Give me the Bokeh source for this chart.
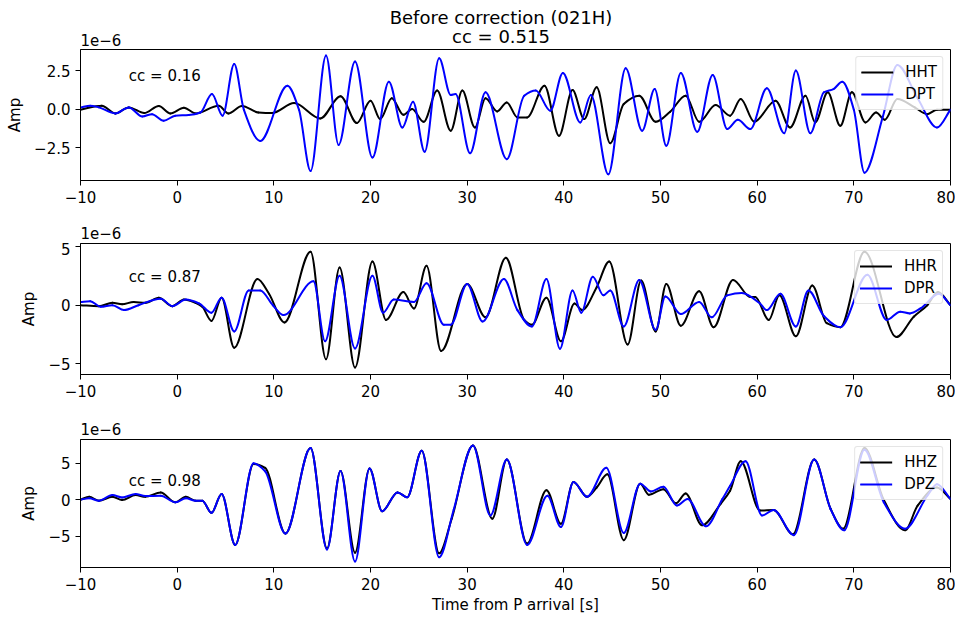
import numpy as np
from bokeh.plotting import figure
from bokeh.layouts import column
from bokeh.models import Range1d, FixedTicker, Label, Legend, LegendItem, ColumnDataSource
from bokeh.core.properties import value
from bokeh.embed import file_html
from bokeh.resources import INLINE

FONT = "DejaVu Sans"

# ---------------- data (amplitudes in units of 1e-6) ----------------
title_text = "Before correction (021H)"
subtitle_text = "cc = 0.515"
offset_text = "1e\u22126"

x_ticks = [-10, 0, 10, 20, 30, 40, 50, 60, 70, 80]
x_tick_labels = ["\u221210", "0", "10", "20", "30", "40", "50", "60", "70", "80"]

y1_ticks = [-2.5, 0.0, 2.5]
y1_tick_labels = ["\u22122.5", "0.0", "2.5"]
y23_ticks = [-5, 0, 5]
y23_tick_labels = ["\u22125", "0", "5"]

hht_t = [-10, -7.8, -6.4, -5.0, -3.4, -1.9, -0.7, 0.7, 1.9, 4.3, 5.3, 6.7, 8.4, 9.8, 12.1, 14.8,
         16.9, 18.6, 20.0, 21.0, 22.2, 23.4, 24.3, 25.5, 26.9, 28.3, 29.5, 30.8, 31.9, 33.1, 34.1,
         35.2, 36.2, 38.0, 39.5, 40.9, 42.1, 43.4, 44.8, 46.2, 47.8, 49.5, 51.0, 52.6, 54.0, 55.7,
         57.2, 58.3, 59.7, 61.9, 63.4, 65.0, 66.0, 67.3, 68.6, 69.8, 71.2, 72.3, 73.2, 74.5, 76.3,
         77.6, 78.6, 80.0]
hht_v = [-0.04, 0.22, -0.28, 0.11, -0.26, 0.2, -0.28, 0.09, -0.28, 0.22, -0.28, 0.2, -0.22, -0.26,
         0.39, -0.61, 0.83, -0.91, 0.54, -0.65, 0.7, -0.37, 0.0, -0.83, 1.2, -1.41, 1.2, -1.2, 0.7,
         -0.15, 0.43, -0.54, -0.54, 1.52, -1.74, 1.24, -0.65, 1.41, -2.22, 0.33, 0.87, -0.83, -0.17,
         0.87, -0.83, 0.26, -0.43, 0.65, -0.83, 0.54, -1.2, 0.87, -0.87, 1.09, -1.09, 1.09, -0.87,
         -0.22, -0.7, 0.65, 0.11, -0.33, -0.04, -0.04]

dpt_t = [-10, -9.0, -8.1, -6.4, -5.0, -3.6, -2.6, -1.4, -0.2, 1.2, 2.4, 3.6, 4.7, 5.9, 6.9, 8.6,
         11.4, 12.6, 13.8, 15.4, 16.7, 18.4, 20.2, 21.9, 23.3, 24.4, 25.6, 27.1, 28.3, 28.8, 30.3,
         31.9, 34.1, 35.9, 37.1, 38.6, 39.9, 41.7, 42.8, 44.6, 46.4, 48.1, 49.4, 50.6, 52.1, 53.8,
         55.4, 56.9, 58.0, 59.3, 61.0, 62.8, 64.0, 65.5, 66.9, 67.9, 68.8, 70.0, 71.1, 73.0, 74.5,
         76.6, 78.6, 80.0]
dpt_v = [0.11, 0.22, 0.11, -0.28, 0.11, -0.48, -0.33, -0.76, -0.43, -0.39, -0.22, 0.98, -0.43,
         2.93, -0.04, -2.07, 1.52, -0.04, -4.02, 3.48, -2.33, 3.09, -3.15, 1.78, -1.2, 0.48, -2.78,
         3.3, 0.91, 0.98, -2.87, 1.09, -3.26, 0.87, 1.2, -0.11, 2.35, -0.87, 0.91, -4.24, 2.65,
         -1.41, 1.3, -2.39, 2.35, -1.48, 2.22, -1.3, -0.7, -1.3, 1.35, -1.57, 2.5, -1.57, 1.09, 1.3,
         1.78, -0.04, -4.13, -0.5, 2.87, 0.7, -1.2, -0.04]

hhr_t = [-10, -8.1, -6.7, -5.7, -4.5, -3.3, -1.9, -0.5, 0.7, 1.9, 2.6, 3.55, 4.6, 5.9, 8.3, 9.5,
         11.1, 13.8, 15.4, 16.8, 18.4, 20.2, 21.6, 23.4, 24.5, 25.8, 27.3, 30.0, 31.9, 34.0, 35.9,
         36.7, 38.2, 39.7, 41.1, 41.9, 43.4, 44.7, 46.6, 48.0, 49.5, 50.6, 52.1, 54.0, 55.5, 57.5,
         59.3, 59.8, 61.2, 62.3, 64.0, 65.7, 67.2, 68.6, 71.1, 74.4, 76.2, 77.6, 78.7, 80.0]
hhr_v = [0.0, -0.08, 0.2, 0.08, 0.28, 0.2, 0.64, -0.08, 0.48, 0.2, -0.14, -1.34, 0.64, -3.64, 2.24,
         0.98, -1.48, 4.57, -4.62, 3.22, -5.32, 3.73, -1.26, 1.12, -0.28, 3.36, -3.92, 1.82, -1.04,
         4.06, -1.26, -1.68, 0.64, -3.08, 0.14, -0.42, 1.54, 3.73, -3.36, 2.1, -2.24, 1.82, -1.76,
         1.2, -1.88, 2.16, 0.7, 0.7, -1.26, 0.84, -2.66, 1.68, -1.54, -1.88, 4.57, -2.72, -0.98,
         0.0, 1.12, 0.0]

dpr_t = [-10, -9.0, -7.9, -6.7, -5.5, -4.0, -1.7, -0.5, 0.9, 2.3, 3.55, 4.6, 5.9, 7.4, 8.6, 9.9,
         11.0, 14.1, 15.3, 16.8, 18.4, 20.2, 21.3, 22.4, 24.5, 25.8, 27.6, 28.3, 30.0, 31.6, 33.8,
         35.2, 36.7, 38.2, 39.6, 40.9, 41.8, 43.0, 44.1, 44.8, 46.2, 47.8, 49.5, 50.5, 52.1, 54.0,
         55.3, 56.9, 58.4, 60.3, 61.0, 62.4, 64.0, 65.3, 66.9, 68.6, 71.4, 73.4, 74.8, 75.8, 76.9,
         78.8, 80.0]
dpr_v = [0.28, 0.34, -0.14, 0.0, -0.42, 0.0, 0.56, -0.08, 0.48, 0.14, -0.64, 0.64, -2.24, 1.26,
         1.26, 0.0, -0.84, 2.04, -3.08, 2.52, -3.7, 2.52, -0.64, 0.48, 0.28, 1.88, -1.68, -1.68,
         1.82, -1.4, 2.24, -0.42, -1.82, 2.24, -3.73, 1.26, -0.64, 2.44, 0.84, 1.26, -1.82, 2.16,
         -2.1, 0.75, -0.76, 0.28, -1.04, 0.84, 1.04, 0.14, -0.42, 0.98, -1.82, 1.26, -0.92, -1.88,
         2.6, -1.26, -0.56, -0.7, -0.28, 0.98, 0.0]

hhz_t = [-10, -9.1, -8.1, -6.7, -5.7, -4.3, -3.3, -1.7, -0.2, 0.9, 1.9, 2.6, 3.55, 4.6, 6.0, 7.9,
         9.1, 11.2, 13.8, 15.5, 16.9, 18.4, 19.9, 21.2, 22.8, 23.8, 25.3, 27.1, 28.4, 30.6, 32.6,
         34.1, 36.2, 38.2, 39.7, 41.0, 42.4, 43.4, 44.5, 46.2, 47.9, 48.8, 50.3, 51.6, 52.6, 54.3,
         56.2, 57.2, 58.3, 60.3, 61.7, 63.7, 65.9, 67.6, 68.9, 71.1, 73.1, 75.3, 76.6, 78.6, 80.0]
hhz_v = [0.0, 0.4, -0.14, 0.4, -0.05, 0.63, 0.4, 1.0, -0.36, 0.4, -0.14, -0.14, -1.8, 0.77, -6.2,
         4.9, 4.37, -4.64, 7.07, -6.67, 3.92, -7.25, 4.28, -1.58, 1.0, 0.32, 6.7, -7.34, -2.6, 7.43,
         -2.6, 5.5, -6.0, 1.3, -3.3, 2.43, 0.4, 1.67, 3.47, -5.54, 2.2, 0.68, 1.44, -0.5, 0.86,
         -3.51, -0.59, 1.22, 5.27, -1.49, -1.4, -4.73, 5.5, -1.26, -3.96, 7.07, -0.05, -4.19, -0.81,
         1.67, 0.09]

dpz_t = [-10, -9.1, -8.1, -6.7, -5.7, -4.3, -3.3, -1.7, -0.2, 0.9, 1.9, 2.6, 3.55, 4.6, 6.0, 7.9,
         9.1, 11.2, 13.8, 15.5, 16.9, 18.4, 19.9, 21.2, 22.8, 23.8, 25.3, 27.1, 28.6, 30.6, 32.4,
         34.1, 36.2, 38.3, 39.7, 41.0, 42.4, 44.4, 46.2, 47.9, 49.0, 50.3, 51.7, 52.8, 54.7, 56.4,
         57.2, 58.8, 60.5, 61.7, 63.8, 65.9, 67.6, 69.0, 71.1, 73.1, 75.3, 77.6, 78.6, 80.0]
dpz_v = [0.0, 0.2, -0.14, 0.63, 0.3, 0.77, 0.5, 0.54, -0.36, 0.2, -0.14, -0.14, -1.8, 0.77, -6.2,
         5.0, 3.9, -4.64, 7.07, -6.8, 3.92, -8.47, 4.28, -1.58, 1.0, 0.32, 6.7, -7.88, -1.4, 7.43,
         -2.16, 5.5, -6.2, 0.54, -3.74, 2.43, 0.4, 4.37, -4.55, 2.2, 1.13, 1.76, -0.81, 0.09, -3.65,
         0.09, 1.9, 5.27, -2.16, -1.4, -4.86, 5.5, -1.3, -4.19, 6.85, -0.36, -3.96, 0.54, 2.12, 0.09]


def smooth_source(t, v):
    """Smooth (monotone cubic) Bezier segments drawn between consecutive read points."""
    t = np.asarray(t, float)
    v = np.asarray(v, float)
    h = np.diff(t)
    d = np.diff(v) / h
    m = np.zeros_like(v)
    m[0] = d[0]
    m[-1] = d[-1]
    for k in range(1, len(v) - 1):
        if d[k - 1] * d[k] > 0:
            w1 = 2 * h[k] + h[k - 1]
            w2 = h[k] + 2 * h[k - 1]
            m[k] = (w1 + w2) / (w1 / d[k - 1] + w2 / d[k])
    return ColumnDataSource(dict(
        x0=t[:-1], y0=v[:-1], x1=t[1:], y1=v[1:],
        cx0=t[:-1] + h / 3, cy0=v[:-1] + m[:-1] * h / 3,
        cx1=t[1:] - h / 3, cy1=v[1:] - m[1:] * h / 3))


W = 955
LEFT, RIGHT = 80, 5

panels = [
    dict(hh=("HHT", hht_t, hht_v), dp=("DPT", dpt_t, dpt_v), cc="cc = 0.16", cc_y=2.17,
         yr=(-4.64, 3.87), yt=y1_ticks, yl=y1_tick_labels, head=48, off_y=9,
         height=164, bottom=32),
    dict(hh=("HHR", hhr_t, hhr_v), dp=("DPR", dpr_t, dpr_v), cc="cc = 0.87", cc_y=2.45,
         yr=(-5.92, 5.27), yt=y23_ticks, yl=y23_tick_labels, head=30, off_y=9.5,
         height=165, bottom=33),
    dict(hh=("HHZ", hhz_t, hhz_v), dp=("DPZ", dpz_t, dpz_v), cc="cc = 0.98", cc_y=2.56,
         yr=(-9.28, 8.24), yt=y23_ticks, yl=y23_tick_labels, head=31, off_y=9.5,
         height=178, bottom=47),
]

items = []
for i, pn in enumerate(panels):
    # header strip above each panel (offset text, and the title for the first panel)
    H = pn["head"]
    hdr = figure(width=W, height=H, x_range=Range1d(-10, 80), y_range=Range1d(0, H),
                 x_axis_type=None, y_axis_type=None, title=None, output_backend="svg",
                 toolbar_location=None, min_border_left=LEFT, min_border_right=RIGHT,
                 min_border_top=0, min_border_bottom=0)
    hdr.outline_line_color = None
    hdr.grid.visible = False
    hdr.text(x=[-10], y=[pn["off_y"]], text=[offset_text], text_font=value(FONT),
             text_font_size=value("15px"), text_color="black", text_align="left",
             text_baseline="alphabetic")
    if i == 0:
        hdr.text(x=[33.5, 33.5], y=[31, 11.7], text=[title_text, subtitle_text],
                 text_font=value(FONT), text_font_size=value("18px"), text_color="black",
                 text_align="center", text_baseline="alphabetic")
    items.append(hdr)

    p = figure(width=W, height=pn["height"], x_range=Range1d(-10, 80),
               y_range=Range1d(*pn["yr"]), title=None, output_backend="svg",
               toolbar_location=None, min_border_left=LEFT, min_border_right=RIGHT,
               min_border_top=1, min_border_bottom=pn["bottom"])
    p.grid.visible = False
    p.background_fill_color = "white"
    p.border_fill_color = "white"
    p.outline_line_color = "black"
    p.outline_line_alpha = 1.0
    p.outline_line_width = 1

    for ax in (p.xaxis[0], p.yaxis[0]):
        ax.axis_line_color = "black"
        ax.major_tick_line_color = "black"
        ax.minor_tick_line_color = None
        ax.major_tick_out = 5
        ax.major_tick_in = 0
        ax.major_label_text_font = FONT
        ax.major_label_text_font_size = "15px"
        ax.major_label_text_color = "black"
        ax.axis_label_text_font = FONT
        ax.axis_label_text_font_size = "15px"
        ax.axis_label_text_font_style = "normal"
        ax.axis_label_text_color = "black"

    p.xaxis.ticker = FixedTicker(ticks=x_ticks)
    p.xaxis.major_label_overrides = dict(zip(x_ticks, x_tick_labels))
    p.xaxis.major_label_standoff = 5
    p.yaxis.ticker = FixedTicker(ticks=pn["yt"])
    p.yaxis.major_label_overrides = dict(zip(pn["yt"], pn["yl"]))
    p.yaxis.axis_label = "Amp"
    p.yaxis.axis_label_standoff = 7
    if i == 2:
        p.xaxis.axis_label = "Time from P arrival [s]"
        p.xaxis.axis_label_standoff = 3
        p.xaxis.major_label_standoff = 5

    hn, ht, hv = pn["hh"]
    dn, dt, dv = pn["dp"]
    r1 = p.bezier(x0="x0", y0="y0", x1="x1", y1="y1", cx0="cx0", cy0="cy0", cx1="cx1",
                  cy1="cy1", source=smooth_source(ht, hv), line_color="black", line_width=2,
                  line_cap="round")
    r2 = p.bezier(x0="x0", y0="y0", x1="x1", y1="y1", cx0="cx0", cy0="cy0", cx1="cx1",
                  cy1="cy1", source=smooth_source(dt, dv), line_color="blue", line_width=2,
                  line_cap="round")

    legend = Legend(items=[LegendItem(label=hn, renderers=[r1]),
                           LegendItem(label=dn, renderers=[r2])],
                    location="top_right")
    legend.label_text_font = FONT
    legend.label_text_font_size = "15px"
    legend.label_text_color = "black"
    legend.glyph_width = 32
    legend.glyph_height = 20
    legend.label_height = 20
    legend.label_standoff = 12
    legend.spacing = 2
    legend.padding = 5
    legend.margin = 7
    legend.border_line_color = "#cccccc"
    legend.border_line_width = 1
    legend.background_fill_alpha = 0.8
    legend.border_radius = 3
    p.add_layout(legend)

    p.add_layout(Label(x=-5, y=pn["cc_y"], text=pn["cc"], text_font=FONT,
                       text_font_size="15px", text_color="black", text_baseline="alphabetic"))
    items.append(p)

layout = column(*items, spacing=0)
open("out.html", "w").write(file_html(layout, INLINE))
